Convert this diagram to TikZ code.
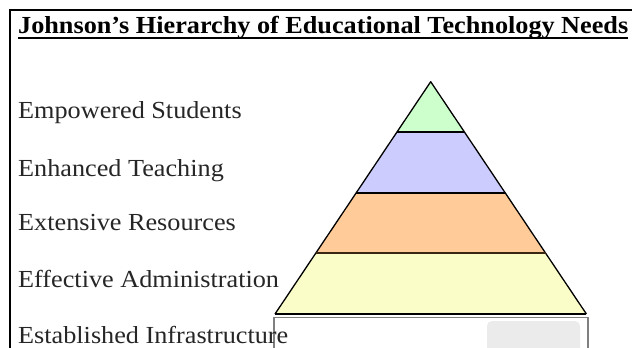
\documentclass[tikz,border=0pt]{standalone}
\usepackage{fontspec}
\setmainfont{Liberation Serif}
\newfontfamily\labelfont[FakeStretch=1.07]{Liberation Serif}
\newfontfamily\titlefont[FakeStretch=1.07]{Liberation Serif}
\usetikzlibrary{positioning, calc}

\definecolor{lvlgreen}{HTML}{CCFFCC}
\definecolor{lvlblue}{HTML}{CCCCFF}
\definecolor{lvlorange}{HTML}{FFCC99}
\definecolor{lvlyellow}{HTML}{FAFDC8}

\tikzset{
	level label/.style={anchor=base west, inner sep=0pt, text=black!85, font=\labelfont\fontsize{24.5}{28}\selectfont},
	level line/.style={line width=1.5pt},
}

\begin{document}
\begin{tikzpicture}[x=1pt, y=-1pt]
	\useasboundingbox (0,0) rectangle (632,348);
	\clip (0,0) rectangle (632,348);
	\draw[line width=2pt] (10,349) -- (10,10) -- (633,10);

	% heading
	\node[anchor=base west, inner sep=0pt, font=\titlefont\bfseries\fontsize{24.5}{28}\selectfont] (title) at (18,33.3)
		{Johnson’s Hierarchy of Educational Technology Needs};
	\draw[line width=1.4pt] ([yshift=-4.6pt]title.base west) -- ([yshift=-4.6pt]title.base east);

	% pyramid corners
	\coordinate (top) at (430.7,81.7);
	\coordinate (bl) at (275,314);
	\coordinate (br) at (586.4,314);
	\coordinate (l1) at ($(top)!0.2165!(bl)$);
	\coordinate (r1) at ($(top)!0.2165!(br)$);
	\coordinate (l2) at ($(top)!0.479!(bl)$);
	\coordinate (r2) at ($(top)!0.479!(br)$);
	\coordinate (l3) at ($(top)!0.7374!(bl)$);
	\coordinate (r3) at ($(top)!0.7374!(br)$);

	\fill[lvlgreen] (top) -- (l1) -- (r1) -- cycle;
	\fill[lvlblue] (l1) -- (l2) -- (r2) -- (r1) -- cycle;
	\fill[lvlorange] (l2) -- (l3) -- (r3) -- (r2) -- cycle;
	\fill[lvlyellow] (l3) -- (bl) -- (br) -- (r3) -- cycle;
	\draw[line width=1.3pt, line join=round] (bl) -- (top) -- (br);
	\draw[level line] (l1) -- (r1);
	\draw[level line] (l2) -- (r2);
	\draw[level line, black!70!brown] (l3) -- (r3);
	\draw[level line] (bl) -- (br);

	% base block
	\draw[gray, line width=1.2pt] (274,317.5) rectangle (588,360);
	\fill[black!8, rounded corners=5pt] (487,321) rectangle (580,358);

	% labels
	\node[level label] (students) at (18,118.3) {Empowered Students};
	\node[level label] (teaching) at (18,176) {Enhanced Teaching};
	\node[level label] (resources) at (18,230.7) {Extensive Resources};
	\node[level label] (admin) at (18,287.7) {Effective Administration};
	\node[level label] (infra) at (18,343.3) {Established Infrastructure};
\end{tikzpicture}
\end{document}
